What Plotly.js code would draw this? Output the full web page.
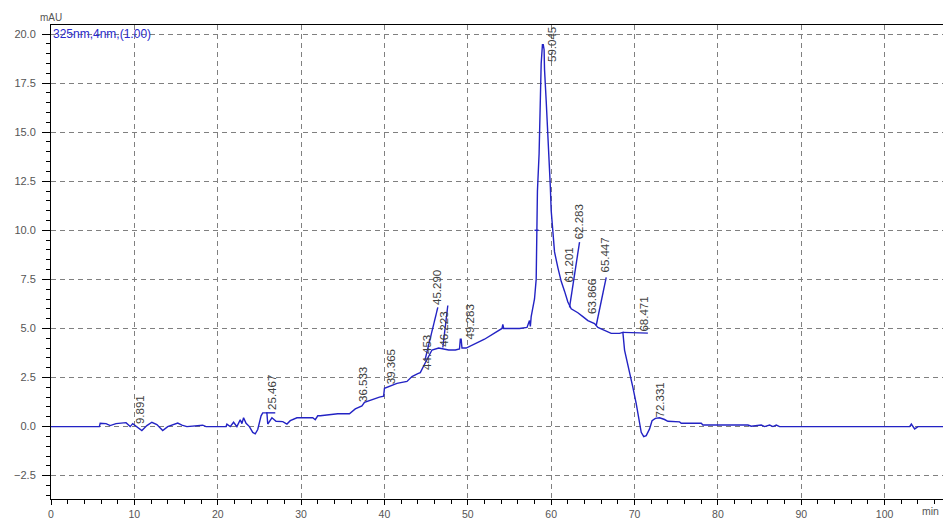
<!DOCTYPE html>
<html>
<head>
<meta charset="utf-8">
<script src="https://cdn.plot.ly/plotly-3.0.1.min.js"></script>
<style>html,body{margin:0;padding:0;background:#fff;}#chart{width:943px;height:519px;}</style>
</head>
<body>
<div id="chart"></div>
<script>
// Chromatogram signal (retention time in min, absorbance in mAU)
const timeMin = [0, 5.8, 5.9, 6.6, 7.1, 7.8, 9.0, 9.5, 9.8, 10.3, 10.9, 11.5, 12.1, 12.7, 13.4, 14.0, 14.6, 15.2, 15.7, 16.3, 18.2, 18.6, 21.0, 21.1, 21.5, 21.9, 22.3, 22.7, 22.9, 23.1, 23.4, 23.8, 24.2, 24.5, 24.8, 25.2, 25.4, 25.9, 26.0, 26.5, 27.0, 27.8, 28.3, 28.7, 29.5, 31.4, 31.7, 32.0, 32.3, 34.4, 35.8, 36.5, 37.3, 37.6, 39.4, 39.9, 40.0, 41.5, 42.7, 43.3, 44.0, 44.3, 44.9, 45.7, 46.5, 47.7, 48.5, 49.0, 49.1, 49.2, 49.3, 49.8, 52.0, 54.1, 54.2, 54.3, 56.2, 57.1, 57.4, 57.5, 57.6, 58.0, 58.2, 58.3, 58.35, 58.55, 58.7, 58.8, 58.95, 59.05, 59.15, 59.2, 59.4, 59.6, 59.75, 59.9, 60.0, 60.2, 60.4, 60.8, 61.2, 61.6, 62.0, 62.4, 63.2, 63.8, 64.4, 65.2, 65.6, 66.4, 67.2, 68.2, 68.6, 68.8, 69.4, 69.8, 70.2, 70.5, 70.8, 71.1, 71.4, 71.8, 72.1, 72.5, 73.0, 73.6, 74.0, 75.4, 75.6, 78.0, 78.2, 83.6, 84.0, 85.2, 85.6, 86.2, 86.6, 87.0, 87.4, 103.0, 103.2, 103.6, 104.0, 107.0];
const signalMAU = [0, 0, 0.17, 0.15, 0.05, 0.15, 0.2, 0.0, 0.15, 0.0, -0.2, 0.05, 0.22, 0.1, -0.2, 0.0, 0.1, 0.18, 0.07, 0.0, 0.07, 0.0, 0.0, 0.12, 0.0, 0.22, 0.0, 0.35, 0.15, 0.45, 0.17, 0.0, -0.3, -0.37, -0.15, 0.55, 0.7, 0.7, 0.13, 0.45, 0.27, 0.25, 0.13, 0.3, 0.45, 0.45, 0.35, 0.55, 0.55, 0.65, 0.65, 0.9, 1.05, 1.24, 1.5, 1.55, 1.95, 2.2, 2.3, 2.55, 2.7, 2.75, 3.25, 3.9, 4.0, 3.9, 3.9, 3.95, 4.45, 4.45, 4.0, 4.0, 4.45, 5.0, 5.2, 5.0, 5.0, 5.05, 5.4, 5.1, 5.6, 6.5, 7.5, 10.0, 12.0, 13.9, 16.5, 18.5, 19.45, 19.45, 19.2, 18.2, 16.6, 15.1, 13.4, 12.2, 11.0, 10.0, 8.9, 8.1, 7.4, 6.9, 6.35, 6.0, 5.8, 5.6, 5.4, 5.25, 5.05, 4.9, 4.75, 4.75, 4.8, 3.9, 2.85, 2.0, 1.17, 0.47, -0.29, -0.51, -0.46, -0.12, 0.3, 0.42, 0.45, 0.36, 0.27, 0.24, 0.17, 0.17, 0.08, 0.08, 0.02, 0.08, 0.0, 0.08, 0.0, 0.08, 0.0, 0.0, 0.13, -0.12, 0.0, 0.0];

// Peak integration marks (segments separated by null)
const markX = [25.8, 26.9, null, 44.85, 46.4, null, 47.0, 47.6, null, 58.0, 58.5, null, 62.2, 63.4, null, 65.4, 66.6, null, 68.6, 71.6];
const markY = [0.7, 0.7, null, 3.37, 6.07, null, 4.03, 6.17, null, 10.0, 10.0, null, 6.07, 9.4, null, 5.15, 7.6, null, 4.8, 4.76];

// Peak labels (text, label centre time, label base value)
const peakLabels = ["9.891", "25.467", "36.533", "39.365", "44.453", "45.290", "46.223", "49.283", "59.045", "61.201", "62.283", "63.866", "65.447", "68.471", "72.331"];
const labelX = [10.67, 26.5, 37.4, 40.8, 45.1, 46.3, 47.1, 50.2, 60.1, 62.1, 63.3, 64.9, 66.4, 71.1, 73.1];
const labelY = [0.1, 0.82, 1.22, 2.09, 2.86, 6.17, 4.03, 4.39, 18.5, 7.3, 9.5, 5.66, 7.8, 4.8, 0.41];

const blue = '#2323c4';
const traces = [
  {x: timeMin, y: signalMAU, mode: 'lines', line: {color: blue, width: 1.4}, hoverinfo: 'skip'},
  {x: markX, y: markY, mode: 'lines', line: {color: blue, width: 1.4}, connectgaps: false, hoverinfo: 'skip'}
];

const annotations = peakLabels.map((t, i) => ({
  x: labelX[i], y: labelY[i], xref: 'x', yref: 'y', text: t, showarrow: false,
  textangle: -90, xanchor: 'center', yanchor: 'bottom', borderpad: 0,
  font: {family: 'Liberation Sans, Arial, sans-serif', size: 11.5, color: '#404040'}
}));
annotations.push({xref: 'paper', yref: 'paper', x: 0, y: 1, xanchor: 'left', yanchor: 'top', xshift: 1, yshift: -1,
  text: '325nm,4nm,(1.00)', showarrow: false, borderpad: 0,
  font: {family: 'Liberation Sans, Arial, sans-serif', size: 12, color: '#2a2acc'}});
annotations.push({xref: 'paper', yref: 'paper', x: 0, y: 1, xanchor: 'center', yanchor: 'bottom', xshift: 0, yshift: 1,
  text: 'mAU', showarrow: false, borderpad: 0,
  font: {family: 'Liberation Sans, Arial, sans-serif', size: 10, color: '#555'}});
annotations.push({xref: 'paper', yref: 'paper', x: 0.9865, y: 0, xanchor: 'center', yanchor: 'top', yshift: -5,
  text: 'min', showarrow: false, borderpad: 0,
  font: {family: 'Liberation Sans, Arial, sans-serif', size: 10.5, color: '#555'}});

const layout = {
  width: 943, height: 519,
  margin: {l: 51, r: 0, t: 25, b: 20, pad: 0},
  paper_bgcolor: '#fff', plot_bgcolor: '#fff',
  showlegend: false,
  font: {family: 'Liberation Sans, Arial, sans-serif', size: 11, color: '#555'},
  xaxis: {
    range: [0, 107], tick0: 0, dtick: 10, ticks: 'outside', ticklen: 5, tickcolor: '#000', tickwidth: 1,
    showline: true, linecolor: '#000', linewidth: 1, mirror: true,
    showgrid: true, gridcolor: '#808080', gridwidth: 1, griddash: '5px,4px', zeroline: false,
    minor: {dtick: 2, ticks: 'outside', ticklen: 4, tickcolor: '#000', showgrid: false},
    ticklabelstandoff: 0,
    tickfont: {size: 10.5, color: '#555'}
  },
  yaxis: {
    range: [-3.69, 20.46], tick0: 0, dtick: 2.5, tickformat: '.1f', ticks: 'outside', ticklen: 8, tickcolor: '#000', tickwidth: 1,
    showline: true, linecolor: '#000', linewidth: 1,
    showgrid: true, gridcolor: '#808080', gridwidth: 1, griddash: '5px,4px', zeroline: false,
    minor: {dtick: 0.5, ticks: 'outside', ticklen: 4, tickcolor: '#000', showgrid: false},
    ticklabelstandoff: 4,
    tickfont: {size: 11, color: '#555'}
  },
  annotations: annotations
};

Plotly.newPlot('chart', traces, layout, {staticPlot: true, displayModeBar: false});
</script>
</body>
</html>
